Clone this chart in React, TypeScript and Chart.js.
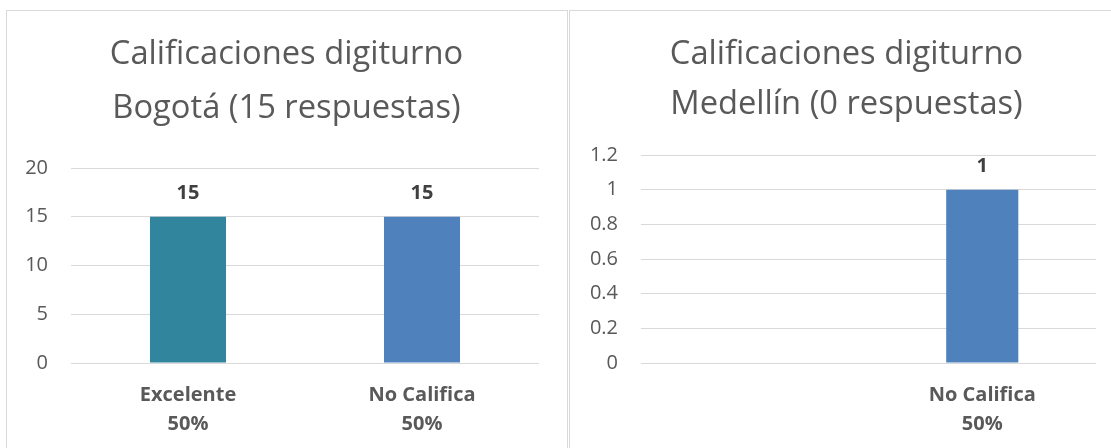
import React, { useEffect, useRef } from "react";
import { Chart, registerables } from "chart.js";

Chart.register(...registerables);

const bogotaCategories: (string | string[])[] = [["Excelente", "50%"], ["No Califica", "50%"]];
const bogotaValues: (number | null)[] = [15, 15];
const bogotaColors = ["#31859C", "#4F81BD"];
const bogotaTitle = ["Calificaciones digiturno", "Bogotá (15 respuestas)"];
const bogotaTicks = { min: 0, max: 20, step: 5 };

const medellinCategories: (string | string[])[] = ["", ["No Califica", "50%"]];
const medellinValues: (number | null)[] = [null, 1];
const medellinColors = ["#4F81BD", "#4F81BD"];
const medellinTitle = ["Calificaciones digiturno", "Medellín (0 respuestas)"];
const medellinTicks = { min: 0, max: 1.2, step: 0.2 };

const FONT = "'Open Sans', 'Noto Sans', sans-serif";

const valueLabels = {
  id: "valueLabels",
  afterDatasetsDraw(chart: any) {
    const ctx = chart.ctx;
    const meta = chart.getDatasetMeta(0);
    const data = chart.data.datasets[0].data;
    ctx.save();
    ctx.font = `bold 20px ${FONT}`;
    ctx.fillStyle = "#404040";
    ctx.textAlign = "center";
    ctx.textBaseline = "middle";
    meta.data.forEach((bar: any, i: number) => {
      const v = data[i];
      if (v === null || v === undefined) return;
      ctx.fillText(String(v), bar.x, bar.y - 23);
    });
    ctx.restore();
  },
};

type Cfg = {
  labels: (string | string[])[];
  values: (number | null)[];
  colors: string[];
  title: string[];
  ticks: { min: number; max: number; step: number };
  barPct: number;
  yWidth: number;
  xHeight: number;
  padRight: number;
  padTop: number;
  titleX: number;
  titleY: number;
  titleLH: number;
};

function makeTitlePlugin(cfg: Cfg) {
  return {
    id: "boxTitle",
    afterDraw(chart: any) {
      const ctx = chart.ctx;
      ctx.save();
      ctx.font = `normal 32.7px ${FONT}`;
      ctx.fillStyle = "#595959";
      ctx.textAlign = "center";
      ctx.textBaseline = "middle";
      cfg.title.forEach((line, i) => {
        ctx.fillText(line, cfg.titleX, cfg.titleY + i * cfg.titleLH);
      });
      ctx.restore();
    },
  };
}

function BarChart({ cfg, width, height }: { cfg: Cfg; width: number; height: number }) {
  const ref = useRef<HTMLCanvasElement | null>(null);
  useEffect(() => {
    if (!ref.current) return;
    const chart = new Chart(ref.current, {
      type: "bar",
      data: {
        labels: cfg.labels,
        datasets: [
          {
            data: cfg.values,
            backgroundColor: cfg.colors,
            borderWidth: 0,
            barPercentage: cfg.barPct,
            categoryPercentage: 1,
          },
        ],
      },
      options: {
        animation: false,
        responsive: true,
        maintainAspectRatio: false,
        layout: { padding: { left: 0, right: cfg.padRight, top: cfg.padTop, bottom: 0 } },
        plugins: {
          legend: { display: false },
          tooltip: { enabled: false },
          title: { display: false },
        },
        scales: {
          x: {
            grid: { display: false, drawTicks: false },
            border: { display: false },
            ticks: {
              color: "#595959",
              font: { family: FONT, size: 20, weight: "bold", lineHeight: 29 / 20 },
              padding: 18,
              maxRotation: 0,
              autoSkip: false,
            },
            afterFit: (s: any) => {
              s.height = cfg.xHeight;
            },
          },
          y: {
            min: cfg.ticks.min,
            max: cfg.ticks.max,
            grid: { color: "#d9d9d9", lineWidth: 1, drawTicks: false },
            border: { display: false },
            ticks: {
              stepSize: cfg.ticks.step,
              color: "#595959",
              font: { family: FONT, size: 20 },
              padding: 23,
              callback: (v: any) => String(Math.round(Number(v) * 10) / 10),
            },
            afterFit: (s: any) => {
              s.width = cfg.yWidth;
            },
          },
        },
      },
      plugins: [valueLabels, makeTitlePlugin(cfg)],
    });
    return () => chart.destroy();
  }, []);
  return (
    <div style={{ position: "relative", width, height }}>
      <canvas ref={ref} />
    </div>
  );
}

export default function App() {
  const left: Cfg = {
    labels: bogotaCategories,
    values: bogotaValues,
    colors: bogotaColors,
    title: bogotaTitle,
    ticks: bogotaTicks,
    barPct: 0.325,
    yWidth: 64,
    xHeight: 85,
    padRight: 28,
    padTop: 157,
    titleX: 279.5,
    titleY: 44,
    titleLH: 54,
  };
  const right: Cfg = {
    labels: medellinCategories,
    values: medellinValues,
    colors: medellinColors,
    title: medellinTitle,
    ticks: medellinTicks,
    barPct: 0.317,
    yWidth: 71,
    xHeight: 85,
    padRight: 15,
    padTop: 144,
    titleX: 276.5,
    titleY: 44,
    titleLH: 50,
  };
  return (
    <div style={{ position: "fixed", inset: 0, overflow: "hidden", background: "#fff" }}>
      <div
        style={{
          position: "absolute",
          left: 6,
          top: 10,
          width: 560,
          height: 460,
          border: "1px solid #d9d9d9",
        }}
      >
        <BarChart cfg={left} width={560} height={437} />
      </div>
      <div
        style={{
          position: "absolute",
          left: 569,
          top: 10,
          width: 600,
          height: 460,
          border: "1px solid #d9d9d9",
        }}
      >
        <BarChart cfg={right} width={541} height={437} />
      </div>
    </div>
  );
}
